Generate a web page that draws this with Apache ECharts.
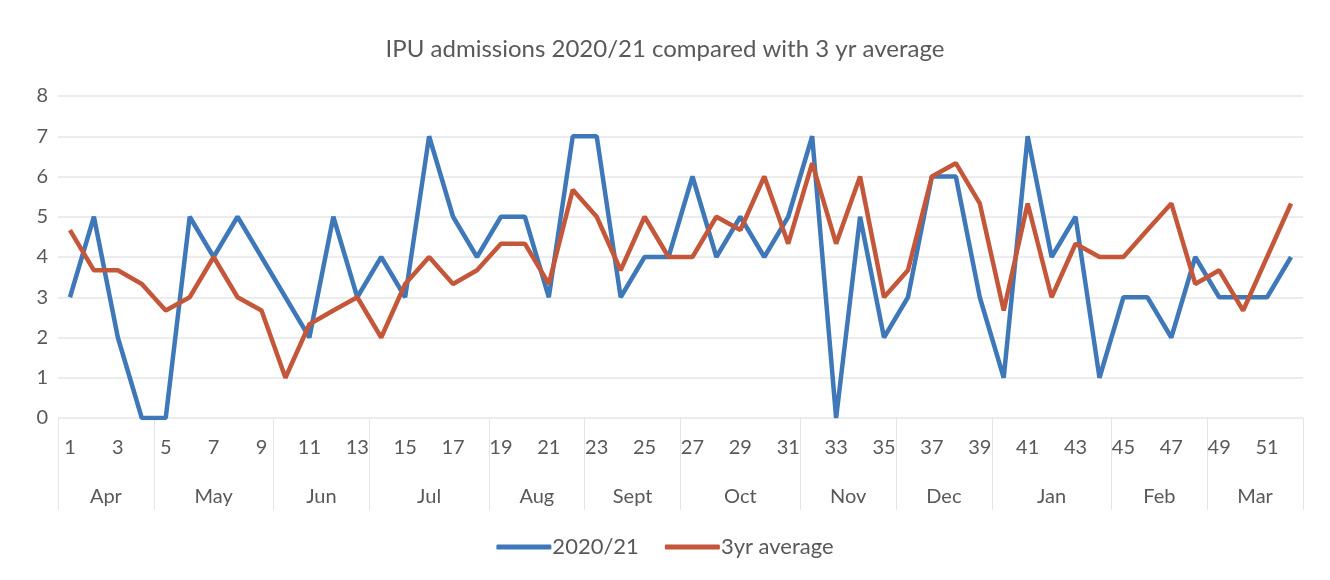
<!DOCTYPE html>
<html><head><meta charset="utf-8">
<script src="https://cdn.jsdelivr.net/npm/echarts@6/dist/echarts.min.js"></script>
<style>html,body{margin:0;padding:0;background:#fff}#c{width:1330px;height:580px}</style>
</head><body><div id="c"></div>
<script>
const weeks = Array.from({length: 52}, (_, i) => String(i + 1));
const months = ['Apr','May','Jun','Jul','Aug','Sept','Oct','Nov','Dec','Jan','Feb','Mar'];
const monthWeeks = [4,5,4,5,4,4,5,4,4,5,4,4];
const admissions2021 = [3,5,2,0,0,5,4,5,4,3,2,5,3,4,3,7,5,4,5,5,3,7,7,3,4,4,6,4,5,4,5,7,0,5,2,3,6,6,3,1,7,4,5,1,3,3,2,4,3,3,3,4];
const avg3yr = [4.67,3.67,3.67,3.33,2.67,3,4,3,2.67,1,2.33,2.67,3,2,3.33,4,3.33,3.67,4.33,4.33,3.33,5.67,5,3.67,5,4,4,5,4.67,6,4.33,6.33,4.33,6,3,3.67,6,6.33,5.33,2.67,5.33,3,4.33,4,4,4.67,5.33,3.33,3.67,2.67,4,5.33];
const yTicks = [0,1,2,3,4,5,6,7,8];

const bounds = [0.5], centers = [];
let acc = 0.5;
monthWeeks.forEach(n => { centers.push(acc + n / 2); acc += n; bounds.push(acc); });

const font = 'Lato, "Open Sans", sans-serif';
const chart = echarts.init(document.getElementById('c'));
chart.setOption({
  animation: false,
  backgroundColor: '#fff',
  title: {
    text: 'IPU admissions 2020/21 compared with 3 yr average',
    left: 'center', top: 32,
    textStyle: {fontFamily: font, fontSize: 24, fontWeight: 'normal', color: '#595959'}
  },
  legend: {
    bottom: 17, left: 'center',
    itemWidth: 55, itemHeight: 5, itemGap: 26,
    icon: 'roundRect',
    textStyle: {fontFamily: font, fontSize: 22, color: '#595959', padding: [0,0,0,-4]},
    data: ['2020/21', '3yr average']
  },
  grid: {left: 58, right: 27, top: 96, bottom: 162},
  xAxis: [{
    type: 'category', data: weeks, boundaryGap: true,
    axisLine: {show: false}, axisTick: {show: false},
    axisLabel: {interval: 1, margin: 20, fontFamily: font, fontSize: 20, color: '#595959'}
  }, {
    type: 'value', min: 0.5, max: 52.5, position: 'bottom',
    axisLine: {show: false}, splitLine: {show: false},
    axisTick: {show: true, customValues: bounds, length: 92, inside: false, lineStyle: {color: '#e4e4e4', width: 1}},
    axisLabel: {customValues: centers, margin: 69, fontFamily: font, fontSize: 20, color: '#595959',
      formatter: v => { const i = centers.findIndex(c => Math.abs(c - v) < 1e-6); return i >= 0 ? months[i] : ''; }}
  }],
  yAxis: {
    type: 'value', min: yTicks[0], max: yTicks[yTicks.length - 1], interval: 1,
    axisLine: {show: false}, axisTick: {show: false},
    axisLabel: {margin: 10, fontFamily: font, fontSize: 20, color: '#595959'},
    splitLine: {lineStyle: {color: '#e6e6e6', width: 1.5}}
  },
  series: [{
    name: '2020/21', type: 'line', data: admissions2021, xAxisIndex: 0,
    symbol: 'none', lineStyle: {width: 4.5, color: '#3f78b8'}, itemStyle: {color: '#3f78b8'}
  }, {
    name: '3yr average', type: 'line', data: avg3yr, xAxisIndex: 0,
    symbol: 'none', lineStyle: {width: 4.5, color: '#c4573a'}, itemStyle: {color: '#c4573a'}
  }]
});
</script></body></html>
